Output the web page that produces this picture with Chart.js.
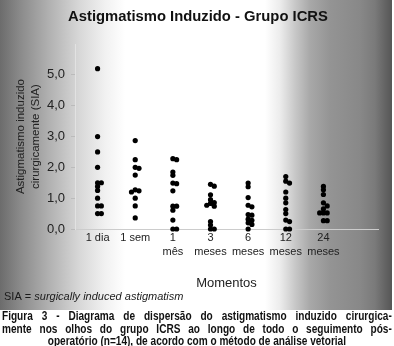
<!DOCTYPE html>
<html lang="pt">
<head>
<meta charset="UTF-8">
<title>Astigmatismo Induzido - Grupo ICRS</title>
<script src="https://cdn.jsdelivr.net/npm/chart.js"></script>
<style>
  body { margin: 0; background: #fff; overflow: hidden; }
  #siaChart { display: block; }
  /* legenda em fonte estreita: texto normal comprimido na horizontal */
  #legenda {
    width: 464px;
    margin: 0 0 0 2px;
    transform: scaleX(0.84);
    transform-origin: left top;
    font: bold 12px/12.5px "Liberation Sans", Arial, sans-serif;
    color: #111;
  }
  #legenda div { text-align: justify; text-align-last: justify; white-space: nowrap; }
  #legenda div.ultima { text-align: center; text-align-last: center; }
</style>
</head>
<body>
<canvas id="siaChart" width="394" height="310"></canvas>
<div id="legenda">
  <div>Figura 3 - Diagrama de dispersão do astigmatismo induzido cirurgica-</div>
  <div>mente nos olhos do grupo ICRS ao longo de todo o seguimento pós-</div>
  <div class="ultima">operatório (n=14), de acordo com o método de análise vetorial</div>
</div>
<script>
const momentos = ['1 dia', '1 sem', '1 mês', '3 meses', '6 meses', '12 meses', '24 meses'];

// SIA (dioptrias) por olho em cada momento
const sia1Dia = [5.2, 3.0, 2.5, 2.0, 1.5, 1.5, 1.38, 1.25, 1.0, 0.75, 0.75, 0.5, 0.5];
const sia1Sem = [2.87, 2.25, 2.0, 1.97, 1.75, 1.27, 1.24, 1.2, 1.0, 0.75, 0.36];
const sia1Mes = [2.28, 2.25, 1.85, 1.74, 1.49, 1.47, 1.24, 0.74, 0.74, 0.61, 0.29, 0.0, 0.0];
const sia3Meses = [1.45, 1.39, 1.11, 0.95, 0.86, 0.83, 0.77, 0.74, 0.24, 0.13, 0.0, 0.0];
const sia6Meses = [1.49, 1.37, 1.02, 0.77, 0.72, 0.47, 0.45, 0.32, 0.28, 0.2, 0.15, 0.0];
const sia12Meses = [1.7, 1.55, 1.49, 1.2, 1.0, 0.85, 0.63, 0.5, 0.29, 0.24, 0.0, 0.0];
const sia24Meses = [1.38, 1.27, 1.12, 0.85, 0.75, 0.65, 0.52, 0.52, 0.52, 0.27, 0.27];

const yTicks = [0, 1, 2, 3, 4, 5];

const grupos = [sia1Dia, sia1Sem, sia1Mes, sia3Meses, sia6Meses, sia12Meses, sia24Meses];

// pontos que se sobrepõem na mesma coluna são afastados para os lados
function espalhar(valores, coluna) {
  const colocados = [];
  return valores.map(v => {
    const ocupados = colocados.filter(c => Math.abs(c.y - v) < 0.1).map(c => c.slot);
    const slot = [0, 1, -1, 2, -2].find(s => !ocupados.includes(s));
    colocados.push({ y: v, slot });
    return { x: coluna + slot * 0.1, y: v };
  });
}

const pontos = grupos.flatMap((g, i) => espalhar(g, i + 1));

const fundo = {
  id: 'fundo',
  beforeDraw(chart) {
    const { ctx, width, height } = chart;
    const w = 392;
    const g = ctx.createLinearGradient(0, 0, w, 0);
    [[0, '#6c6c6c'], [20, '#8a8a8a'], [50, '#b2b2b2'], [80, '#d8d8d8'], [105, '#f1f1f1'],
     [125, '#ffffff'], [265, '#ffffff'], [280, '#ececec'], [295, '#c8c8c8'], [310, '#a8a8a8'],
     [330, '#949494'], [360, '#888888'], [375, '#7a7a7a'], [385, '#646464'], [392, '#565656']]
      .forEach(([x, c]) => g.addColorStop(x / w, c));
    ctx.save();
    ctx.fillStyle = '#fff';
    ctx.fillRect(0, 0, width, height);
    ctx.fillStyle = g;
    ctx.fillRect(0, 0, w, height);
    ctx.restore();
  },
  afterDraw(chart) {
    const ctx = chart.ctx;
    ctx.save();
    ctx.fillStyle = '#1a1a1a';
    ctx.textBaseline = 'middle';
    ctx.font = '11px "Liberation Sans", Arial, sans-serif';
    ctx.fillText('SIA = ', 4, 297);
    const dx = ctx.measureText('SIA = ').width;
    ctx.font = 'italic 11px "Liberation Sans", Arial, sans-serif';
    ctx.fillText('surgically induced astigmatism', 4 + dx, 297);
    ctx.restore();
  }
};

Chart.defaults.font.family = '"Liberation Sans", Arial, sans-serif';
Chart.defaults.color = '#222';

new Chart(document.getElementById('siaChart'), {
  type: 'scatter',
  data: {
    datasets: [{
      data: pontos,
      backgroundColor: '#000',
      borderWidth: 0,
      pointRadius: 2.6,
      pointHoverRadius: 2.6,
      clip: false
    }]
  },
  options: {
    responsive: false,
    animation: false,
    layout: { padding: { left: 18, right: 16, top: 0, bottom: 0 } },
    plugins: {
      legend: { display: false },
      tooltip: { enabled: false },
      title: {
        display: true,
        text: 'Astigmatismo Induzido - Grupo ICRS',
        color: '#111',
        font: { size: 14.8, weight: 'bold', lineHeight: 1.2 },
        padding: { top: 8.3, bottom: 18 }
      }
    },
    scales: {
      x: {
        type: 'linear',
        min: 0.4,
        max: 8.45,
        afterBuildTicks: s => { s.ticks = momentos.map((_, i) => ({ value: i + 1 })); },
        afterFit: s => { s.height = 81; },
        grid: { display: false, drawTicks: false },
        border: { color: '#cccccc' },
        ticks: {
          autoSkip: false,
          maxRotation: 0,
          padding: 2,
          font: { size: 11, lineHeight: 1.27 },
          callback: v => {
            const nome = momentos[Math.round(v) - 1];
            const partes = nome.split(' ');
            return /^m/.test(partes[1]) ? partes : nome;
          }
        },
        title: {
          display: true,
          text: 'Momentos',
          font: { size: 13, lineHeight: 1.2 },
          padding: { top: 0, bottom: 19 }
        }
      },
      y: {
        min: 0,
        max: 6,
        afterBuildTicks: s => { s.ticks = yTicks.map(v => ({ value: v })); },
        afterFit: s => { s.width = 57; },
        grid: { drawOnChartArea: false, tickLength: 4, color: '#bbbbbb' },
        border: { color: '#e2e2e2' },
        ticks: {
          padding: 6,
          font: { size: 13 },
          callback: v => v.toFixed(1).replace('.', ',')
        },
        title: {
          display: true,
          text: ['Astigmatismo induzido', 'cirurgicamente (SIA)'],
          font: { size: 11.5, lineHeight: 1.3 },
          padding: { top: -4.5, bottom: 0 }
        }
      }
    }
  },
  plugins: [fundo]
});
</script>
</body>
</html>
